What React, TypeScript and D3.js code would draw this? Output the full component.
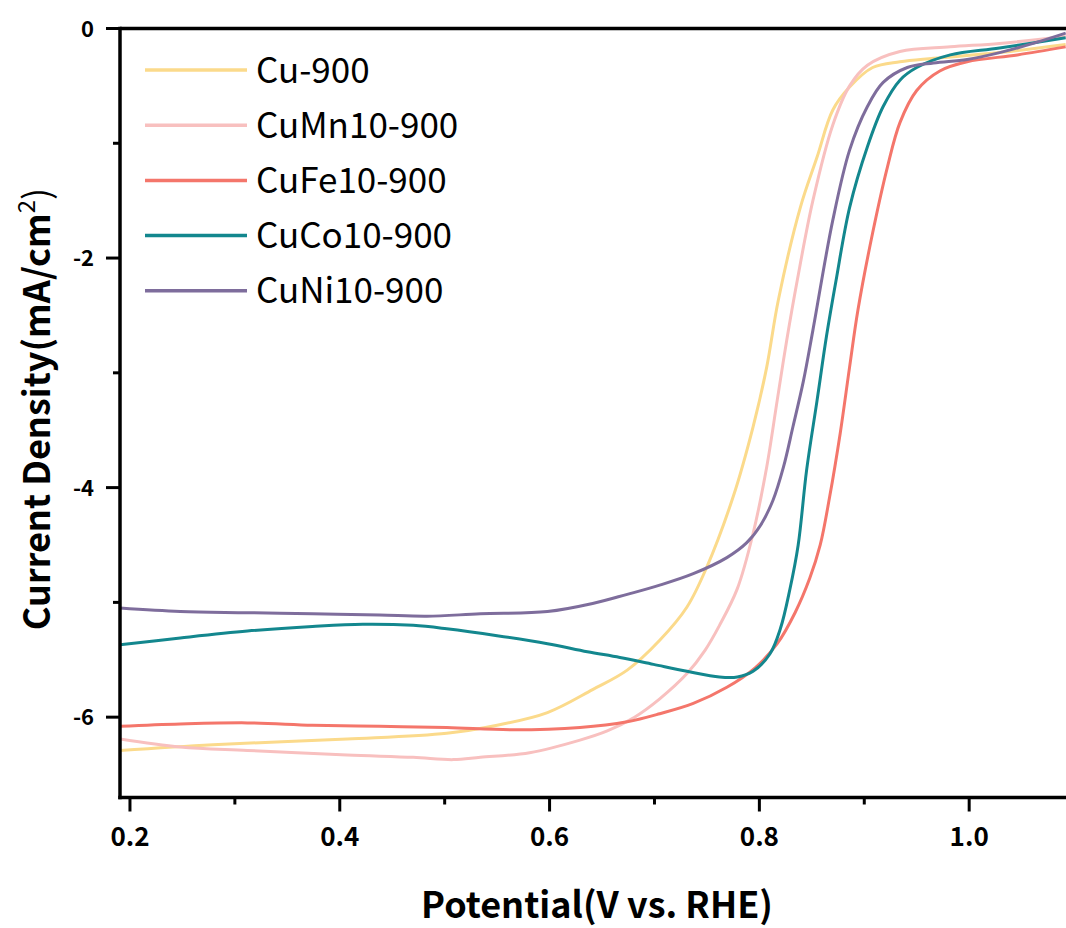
import React from "react";
import * as d3 from "d3";

type Pt = [number, number];

const seriesNames = ["Cu-900", "CuMn10-900", "CuFe10-900", "CuCo10-900", "CuNi10-900"];
const seriesColors = ["#FBDA8B", "#F8C0BF", "#F4766B", "#13878E", "#7E6D9C"];

const cu900: Pt[] = [
  [0.1905, -6.29], [0.279, -6.24], [0.407, -6.19], [0.502, -6.14], [0.55, -6.07],
  [0.598, -5.96], [0.641, -5.76], [0.674, -5.59], [0.705, -5.33], [0.731, -5.04],
  [0.75, -4.69], [0.775, -4.08], [0.794, -3.47], [0.807, -2.95], [0.818, -2.37],
  [0.839, -1.56], [0.855, -1.12], [0.87, -0.71], [0.886, -0.51], [0.908, -0.34],
  [0.934, -0.29], [0.966, -0.26], [1.029, -0.21], [1.092, -0.14],
];

const cuMn: Pt[] = [
  [0.1905, -6.19], [0.248, -6.26], [0.312, -6.29], [0.407, -6.33], [0.47, -6.35],
  [0.508, -6.37], [0.534, -6.35], [0.581, -6.31], [0.629, -6.2], [0.655, -6.12],
  [0.681, -6.0], [0.705, -5.84], [0.731, -5.62], [0.748, -5.42], [0.762, -5.2],
  [0.779, -4.88], [0.794, -4.4], [0.807, -3.82], [0.817, -3.24], [0.826, -2.72],
  [0.836, -2.2], [0.851, -1.5], [0.87, -0.84], [0.886, -0.5], [0.903, -0.32],
  [0.934, -0.2], [0.982, -0.16], [1.029, -0.13], [1.092, -0.07],
];

const cuFe: Pt[] = [
  [0.1905, -6.08], [0.248, -6.06], [0.312, -6.05], [0.374, -6.07], [0.438, -6.08],
  [0.502, -6.09], [0.565, -6.11], [0.629, -6.09], [0.674, -6.04], [0.705, -5.97],
  [0.737, -5.88], [0.769, -5.74], [0.796, -5.57], [0.817, -5.36], [0.834, -5.09],
  [0.848, -4.79], [0.858, -4.5], [0.867, -4.08], [0.877, -3.53], [0.886, -2.95],
  [0.894, -2.45], [0.908, -1.78], [0.922, -1.21], [0.934, -0.82], [0.95, -0.54],
  [0.972, -0.37], [0.998, -0.29], [1.046, -0.23], [1.092, -0.16],
];

const cuCo: Pt[] = [
  [0.1905, -5.37], [0.248, -5.31], [0.312, -5.25], [0.374, -5.21], [0.422, -5.19],
  [0.47, -5.2], [0.502, -5.23], [0.55, -5.29], [0.598, -5.36], [0.636, -5.43],
  [0.667, -5.48], [0.699, -5.54], [0.731, -5.6], [0.762, -5.65], [0.779, -5.65],
  [0.794, -5.6], [0.81, -5.45], [0.82, -5.23], [0.829, -4.89], [0.837, -4.5],
  [0.845, -3.85], [0.855, -3.24], [0.864, -2.68], [0.873, -2.2], [0.886, -1.56],
  [0.903, -1.03], [0.918, -0.68], [0.934, -0.45], [0.95, -0.34], [0.982, -0.23],
  [1.029, -0.17], [1.092, -0.08],
];

const cuNi: Pt[] = [
  [0.1905, -5.05], [0.248, -5.08], [0.312, -5.09], [0.374, -5.1], [0.438, -5.11],
  [0.483, -5.12], [0.534, -5.1], [0.598, -5.08], [0.641, -5.01],
  [0.674, -4.93], [0.705, -4.85], [0.737, -4.75], [0.769, -4.61], [0.788, -4.48],
  [0.801, -4.33], [0.813, -4.11], [0.823, -3.82], [0.832, -3.47], [0.842, -3.07],
  [0.851, -2.63], [0.87, -1.67], [0.886, -1.06], [0.903, -0.68], [0.918, -0.47],
  [0.941, -0.34], [0.966, -0.3], [0.998, -0.27], [1.029, -0.21], [1.061, -0.13],
  [1.092, -0.04],
];

const seriesData: Pt[][] = [cu900, cuMn, cuFe, cuCo, cuNi];

const xMajorTicks = [0.2, 0.4, 0.6, 0.8, 1.0];
const xMinorTicks = [0.3, 0.5, 0.7, 0.9];
const yMajorTicks = [0, -2, -4, -6];
const yMinorTicks = [-1, -3, -5];

const FONT = "'Noto Sans CJK SC', 'Noto Sans', sans-serif";

export default function App() {
  const W = 1066;
  const H = 928;
  const left = 120;
  const right = 1066;
  const top = 28.5;
  const bottom = 797.5;

  const x = d3.scaleLinear().domain([0.1905, 1.0923]).range([left, right]);
  const y = d3.scaleLinear().domain([-6.7, 0]).range([bottom, top]);

  const line = d3
    .line<Pt>()
    .x((d) => x(d[0]))
    .y((d) => y(d[1]))
    .curve(d3.curveCatmullRom.alpha(0.5));

  return (
    <svg
      width={W}
      height={H}
      style={{ position: "absolute", left: 0, top: 0, background: "#fff" }}
      fontFamily={FONT}
    >
      <defs>
        <clipPath id="plotClip">
          <rect x={left} y={top} width={right - left} height={bottom - top} />
        </clipPath>
      </defs>
      <rect x={0} y={0} width={W} height={H} fill="#fff" />

      <g clipPath="url(#plotClip)">
        {seriesData.map((d, i) => (
          <path
            key={seriesNames[i]}
            d={line(d) || ""}
            fill="none"
            stroke={seriesColors[i]}
            strokeWidth={3}
            strokeLinejoin="round"
          />
        ))}
      </g>

      {/* axes frame */}
      <line x1={left} x2={right} y1={top} y2={top} stroke="#000" strokeWidth={3.5} />
      <line x1={left} x2={left} y1={top - 1.75} y2={bottom + 1.75} stroke="#000" strokeWidth={3.5} />
      <line x1={left - 1.75} x2={right} y1={bottom} y2={bottom} stroke="#000" strokeWidth={3.5} />

      {/* x ticks */}
      {xMajorTicks.map((t) => (
        <g key={"xM" + t}>
          <line x1={x(t)} x2={x(t)} y1={bottom} y2={bottom + 14} stroke="#000" strokeWidth={3} />
          <text x={x(t)} y={846} textAnchor="middle" fontSize={26} fontWeight="bold" fill="#000">
            {t.toFixed(1)}
          </text>
        </g>
      ))}
      {xMinorTicks.map((t) => (
        <line key={"xm" + t} x1={x(t)} x2={x(t)} y1={bottom} y2={bottom + 7} stroke="#000" strokeWidth={3} />
      ))}

      {/* y ticks */}
      {yMajorTicks.map((t) => (
        <g key={"yM" + t}>
          <line x1={left - 14} x2={left} y1={y(t)} y2={y(t)} stroke="#000" strokeWidth={3} />
          <text x={94} y={y(t) + 8} textAnchor="end" fontSize={22} fontWeight="bold" fill="#000">
            {String(t)}
          </text>
        </g>
      ))}
      {yMinorTicks.map((t) => (
        <line key={"ym" + t} x1={left - 7} x2={left} y1={y(t)} y2={y(t)} stroke="#000" strokeWidth={3} />
      ))}

      {/* axis titles */}
      <text x={597} y={918} textAnchor="middle" fontSize={36} fontWeight="bold" fill="#000">
        Potential(V vs. RHE)
      </text>
      <text
        transform="translate(50,409) rotate(-90)"
        textAnchor="middle"
        fontSize={36}
        fontWeight="bold"
        fill="#000"
      >
        Current Density(mA/cm
        <tspan fontSize={24} fontWeight="normal" dy={-15}>2</tspan>
        <tspan fontWeight="normal" dy={15}>)</tspan>
      </text>

      {/* legend */}
      {seriesNames.map((n, i) => {
        const ly = 70 + i * 55.2;
        return (
          <g key={"lg" + n}>
            <line x1={145} x2={247} y1={ly} y2={ly} stroke={seriesColors[i]} strokeWidth={3.5} />
            <text x={256} y={ly + 12.5} fontSize={35} fill="#000">
              {n}
            </text>
          </g>
        );
      })}
    </svg>
  );
}
